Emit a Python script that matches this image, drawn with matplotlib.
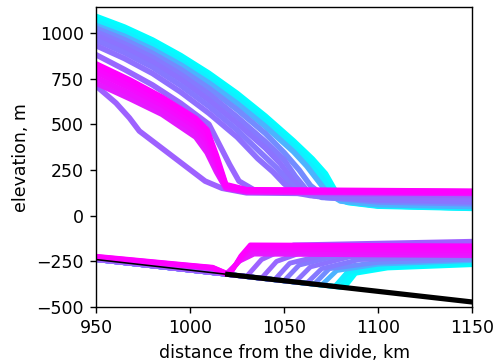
import numpy as np
import matplotlib as mpl
mpl.use('Agg')
import matplotlib.pyplot as plt

# colour position of each profile in the 'cool' colormap (0 = cyan, 1 = magenta)
stage = [0.00, 0.03, 0.07, 0.30, 0.45, 0.52, 0.55, 0.53, 0.56,
         0.60, 0.62, 0.90, 0.93, 0.96, 0.98, 1.00]

# upper ice surface
surf_x = [
    [950, 965, 980, 995, 1010, 1025, 1040, 1055, 1065, 1072, 1077, 1085, 1100, 1150],
    [950, 965, 980, 995, 1010, 1025, 1040, 1055, 1064, 1071, 1076, 1084, 1100, 1150],
    [950, 965, 980, 995, 1010, 1025, 1040, 1055, 1063, 1070, 1075, 1083, 1100, 1150],
    [950, 965, 980, 995, 1010, 1025, 1040, 1055, 1062, 1068, 1073, 1080, 1100, 1150],
    [950, 965, 980, 995, 1010, 1025, 1040, 1050, 1058, 1064, 1072, 1100, 1150],
    [950, 965, 980, 995, 1010, 1025, 1040, 1050, 1056, 1062, 1070, 1100, 1150],
    [950, 965, 980, 995, 1010, 1025, 1040, 1048, 1054, 1060, 1068, 1100, 1150],
    [950, 965, 980, 995, 1010, 1025, 1038, 1046, 1052, 1058, 1066, 1100, 1150],
    [950, 965, 980, 995, 1010, 1025, 1036, 1044, 1050, 1056, 1064, 1100, 1150],
    [950, 965, 980, 995, 1010, 1021, 1026, 1035, 1150],
    [950, 960.6, 967.7, 973, 1008, 1017, 1030, 1150],
    [950, 968, 985, 1003, 1009, 1014, 1019, 1030, 1150],
    [950, 968, 985, 1003, 1009, 1014, 1019, 1030, 1150],
    [950, 968, 985, 1003, 1009, 1014, 1019, 1030, 1150],
    [950, 968, 985, 1003, 1009, 1014, 1019, 1030, 1150],
    [950, 968, 985, 1003, 1009, 1014, 1019, 1030, 1150],
]
surf_z = [
    [1090, 1032, 961, 876, 779, 669, 545, 409, 311, 230, 140, 75, 55, 42],
    [1075, 1017, 945, 860, 762, 652, 528, 392, 300, 215, 130, 72, 52, 40],
    [1058, 1000, 928, 843, 745, 634, 510, 374, 285, 205, 130, 75, 55, 42],
    [1040, 982, 910, 825, 726, 614, 488, 350, 272, 192, 125, 80, 60, 50],
    [1025, 963, 888, 800, 697, 580, 450, 345, 250, 165, 100, 75, 65],
    [1005, 940, 865, 772, 665, 540, 405, 305, 215, 140, 100, 85, 75],
    [985, 918, 840, 745, 632, 505, 370, 285, 200, 135, 105, 90, 80],
    [960, 892, 812, 712, 598, 468, 340, 262, 190, 130, 108, 95, 85],
    [930, 860, 778, 676, 560, 430, 312, 240, 175, 125, 110, 100, 90],
    [880, 800, 715, 615, 500, 280, 189, 135, 110],
    [710, 616, 535, 463, 189, 150, 125, 112],
    [725, 640, 555, 430, 345, 240, 150, 130, 122],
    [755, 668, 580, 460, 375, 265, 155, 133, 125],
    [785, 698, 608, 488, 410, 290, 160, 136, 128],
    [810, 722, 628, 510, 440, 310, 165, 140, 131],
    [830, 742, 648, 532, 470, 330, 170, 142, 134],
]

# lower ice surface (ice base)
base_x = [
    [950, 1082, 1088, 1105, 1150],
    [950, 1080, 1086, 1105, 1150],
    [950, 1077, 1084, 1105, 1150],
    [950, 1070, 1078, 1100, 1150],
    [950, 1066, 1074, 1100, 1150],
    [950, 1062, 1070, 1090, 1150],
    [950, 1056, 1064, 1085, 1150],
    [950, 1050, 1058, 1080, 1150],
    [950, 1045, 1053, 1075, 1150],
    [950, 1038, 1046, 1065, 1150],
    [950, 1030, 1038, 1055, 1150],
    [950, 995, 1012, 1019, 1026, 1034, 1150],
    [950, 995, 1012, 1020, 1027, 1033, 1150],
    [950, 995, 1012, 1020, 1027, 1032, 1150],
    [950, 995, 1012, 1021, 1027, 1032, 1150],
    [950, 995, 1012, 1021, 1027, 1032, 1150],
]
base_z = [
    [-240, -393, -315, -286, -268],
    [-240, -391, -310, -280, -262],
    [-240, -387, -305, -275, -255],
    [-240, -379, -300, -265, -245],
    [-240, -375, -290, -255, -238],
    [-240, -370, -290, -240, -225],
    [-240, -363, -280, -225, -210],
    [-240, -356, -270, -215, -200],
    [-240, -350, -260, -205, -190],
    [-240, -342, -250, -180, -150],
    [-240, -333, -240, -160, -140],
    [-230, -272, -290, -320, -250, -210, -218],
    [-228, -271, -288, -321, -240, -196, -204],
    [-226, -270, -286, -322, -232, -182, -190],
    [-224, -268, -284, -322, -225, -170, -176],
    [-222, -266, -282, -322, -220, -160, -165],
]

# bedrock
bed_x = [950, 1150]
bed_z = [-240, -472]
bed_float_x = [1020, 1150]
bed_float_z = [-321, -472]

fig = plt.figure(figsize=(498 / 125, 363 / 125), dpi=125)
ax = fig.add_axes([0.193, 0.154, 0.755, 0.826])

cmap = plt.get_cmap('cool')
for k, t in enumerate(stage):
    ax.plot(surf_x[k], surf_z[k], color=cmap(t), lw=3.2)
    ax.plot(base_x[k], base_z[k], color=cmap(t), lw=2.8)

ax.plot(bed_x, bed_z, color='k', lw=0.9)
ax.plot(bed_float_x, bed_float_z, color='k', lw=3.0)

ax.set_xlim(950, 1150)
ax.set_ylim(-500, 1140)
ax.set_xticks([950, 1000, 1050, 1100, 1150])
ax.set_yticks([-500, -250, 0, 250, 500, 750, 1000])
ax.set_xlabel('distance from the divide, km')
ax.set_ylabel('elevation, m')

fig.savefig('out.png', dpi=125)
